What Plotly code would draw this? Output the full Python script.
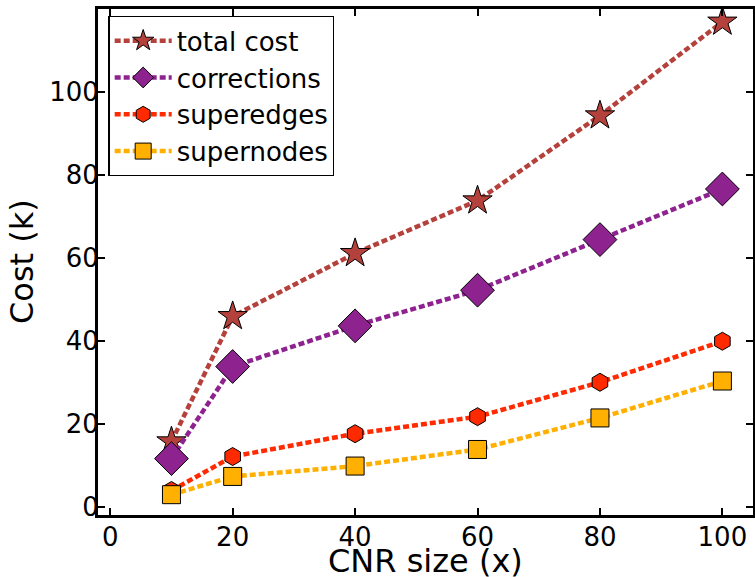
import plotly.graph_objects as go

cnr_size = [10, 20, 40, 60, 80, 100]
total_cost = [15.7, 45.9, 61.1, 73.8, 94.3, 116.9]
corrections = [11.6, 33.8, 43.6, 52.2, 64.4, 76.6]
superedges = [3.9, 12.1, 17.6, 21.7, 30.0, 39.9]
supernodes = [2.9, 7.3, 9.8, 13.8, 21.4, 30.3]

series = [
    ("total cost", total_cost, "#B5413C", "star", 22),
    ("corrections", corrections, "#8E2390", "diamond", 26),
    ("superedges", superedges, "#FF2A00", "hexagon", 18),
    ("supernodes", supernodes, "#FFB000", "square", 18),
]

font_family = "DejaVu Sans"

fig = go.Figure()
for name, vals, color, symbol, size in series:
    fig.add_trace(go.Scatter(
        x=cnr_size, y=vals, name=name, mode="lines+markers",
        line=dict(color=color, width=4.5, dash="6px,3px"),
        marker=dict(symbol=symbol, size=size, color=color,
                    line=dict(color="black", width=1)),
    ))

axis_common = dict(
    showline=True, linecolor="black", linewidth=3, mirror="ticks",
    ticks="inside", ticklen=7, tickwidth=1.5, tickcolor="black",
    showgrid=False, zeroline=False, automargin=False,
    tickfont=dict(family=font_family, size=26, color="black"),
)

fig.update_layout(
    width=755, height=577,
    margin=dict(l=98, r=2, t=9, b=62),
    paper_bgcolor="white", plot_bgcolor="white",
    font=dict(family=font_family, color="black"),
    xaxis=dict(range=[-2, 105], tickvals=[0, 20, 40, 60, 80, 100],
               ticklabelstandoff=-3, **axis_common),
    yaxis=dict(range=[-2, 120], tickvals=[0, 20, 40, 60, 80, 100],
               ticklabelstandoff=-9, **axis_common),
    legend=dict(x=0.016, y=0.986, xanchor="left", yanchor="top",
                bordercolor="black", borderwidth=1.2, bgcolor="white",
                font=dict(family=font_family, size=26, color="black"),
                tracegroupgap=0, itemwidth=57),
    showlegend=True,
    annotations=[
        dict(text="CNR size (x)", xref="paper", yref="paper", x=0.5, y=0,
             xanchor="center", yanchor="middle", yshift=-46, showarrow=False,
             font=dict(family=font_family, size=32, color="black")),
        dict(text="Cost (k)", xref="paper", yref="paper", x=0, y=0.5,
             xanchor="center", yanchor="middle", xshift=-76, textangle=-90,
             showarrow=False,
             font=dict(family=font_family, size=32, color="black")),
    ],
)

fig.write_html("out.html")
